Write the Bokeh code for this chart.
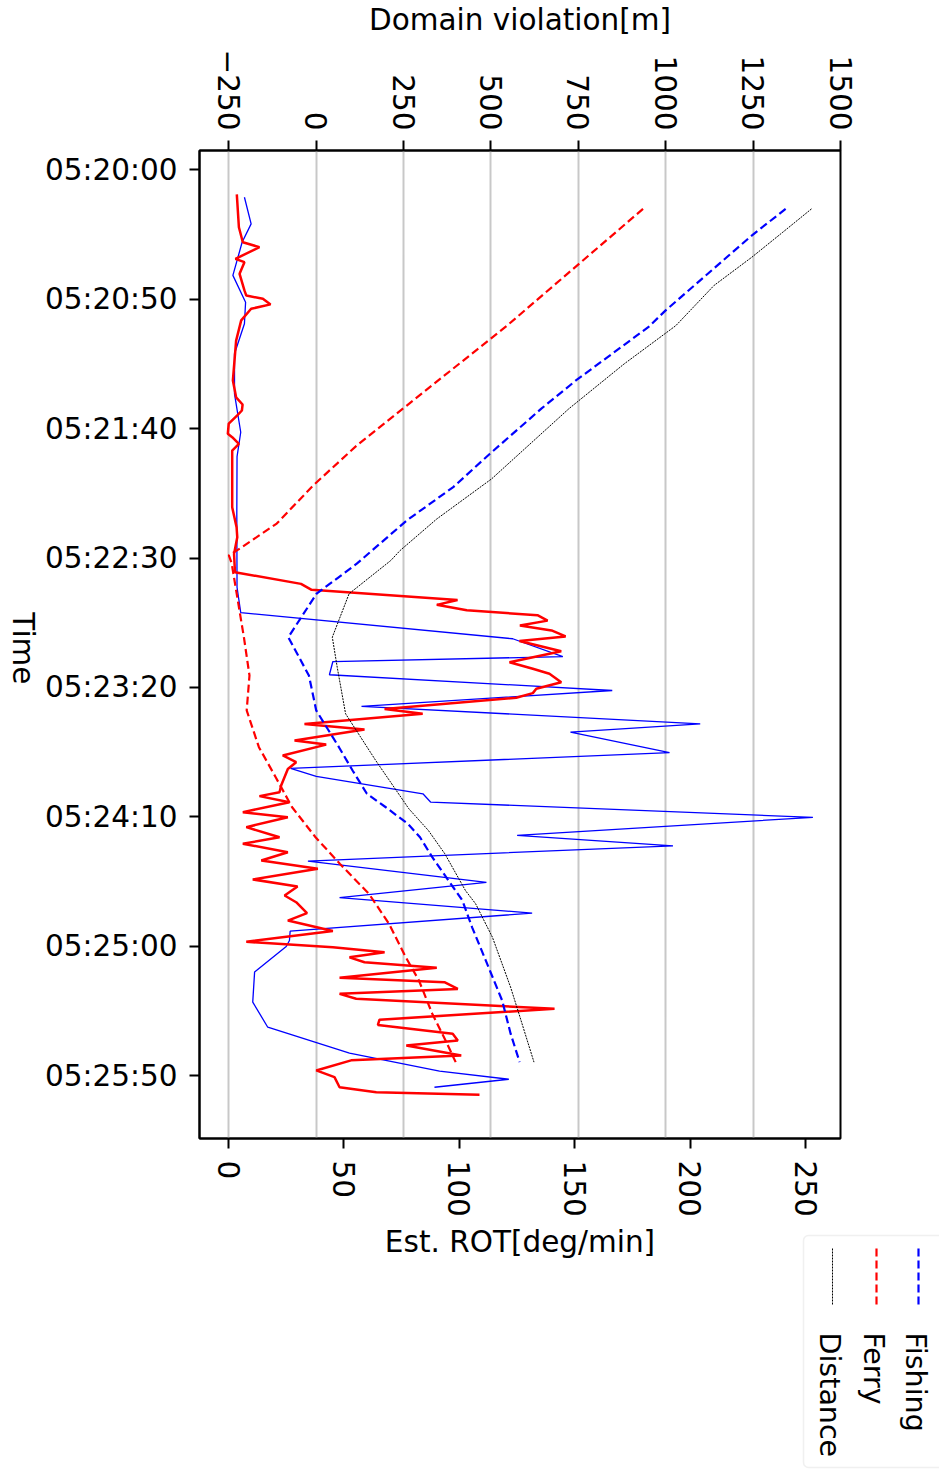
import math
from bokeh.plotting import figure
from bokeh.models import Range1d, LinearAxis, FixedTicker, Grid, BoxAnnotation
from bokeh.layouts import row, column
from bokeh.core.properties import value
from bokeh.embed import file_html
from bokeh.resources import INLINE

# ---------------- data (seconds after 05:20:00) ----------------
ferry_rot_t = [9.5, 22.2, 28.0, 29.9, 34.4, 35.7, 40.2, 46.6, 48.6, 49.8, 52.0, 53.7, 58.2, 66.0,
               81.4, 87.9, 90.7, 93.0, 94.9, 98.1, 102.0, 103.3, 105.9, 108.5, 130.4, 138.1, 142.0,
               148.4, 155.5, 160.0, 162.3, 166.2, 168.1, 170.2, 172.1, 174.2, 176.1, 178.0, 180.3,
               182.1, 186.0, 190.3, 192.8, 194.7, 198.0, 200.5, 202.2, 204.0, 208.3, 210.2, 214.1,
               216.3, 220.5, 222.1, 226.3, 228.9, 231.5, 237.9, 240.5, 242.0, 244.4, 248.2, 250.2,
               254.0, 257.9, 260.4, 263.7, 266.9, 270.1, 274.2, 276.9, 280.4, 283.0, 287.2, 290.1,
               294.1, 298.3, 300.4, 302.3, 304.3, 306.2, 308.3, 312.2, 313.9, 316.5, 318.4, 320.3,
               324.2, 328.4, 330.4, 333.8, 336.4, 338.4, 342.2, 344.1, 348.0, 350.6, 354.5, 356.4,
               357.4]
ferry_rot = [3.6, 4.5, 6.2, 13.4, 3.0, 6.9, 4.8, 6.9, 7.7, 14.9, 18.2, 9.8, 5.5, 3.3, 1.9, 3.3,
             6.1, 5.8, 3.8, 0.1, -0.3, 1.6, 4.5, 1.6, 1.6, 3.5, 3.8, 2.4, 2.8, 31.4, 36.0, 99.2,
             90.2, 103.2, 133.8, 138.2, 126.2, 139.9, 146.0, 126.0, 144.1, 121.7, 131.8, 139.0,
             144.1, 133.3, 131.8, 124.6, 67.6, 84.1, 32.9, 58.9, 28.6, 42.3, 23.5, 29.3, 25.7,
             22.8, 22.1, 13.4, 26.4, 6.2, 25.7, 7.7, 22.1, 6.2, 25.7, 14.2, 38.7, 10.5, 29.9,
             24.3, 29.3, 34.0, 25.7, 45.2, 7.7, 45.2, 67.6, 52.4, 58.9, 90.2, 48.1, 93.5, 99.3,
             48.1, 55.3, 141.2, 65.4, 64.7, 97.1, 99.3, 77.0, 100.8, 53.1, 38.0, 45.9, 48.1,
             64.0, 108.7]

fishing_rot_t = [10.6, 20.9, 28.0, 40.8, 51.2, 59.5, 71.1, 86.6, 101.4, 110.8, 132.9, 161.3,
                 171.1, 181.2, 188.1, 190.0, 195.1, 201.2, 207.3, 214.1, 217.3, 225.2, 231.3,
                 234.4, 241.1, 244.3, 250.2, 257.2, 261.2, 267.1, 275.3, 281.2, 287.2, 294.2,
                 297.8, 300.1, 310.0, 321.6, 331.3, 341.3, 348.3, 351.4, 354.5]
fishing_rot = [6.9, 9.8, 5.9, 1.9, 7.4, 6.9, 2.6, 2.6, 5.3, 3.7, 3.6, 3.7, 5.3, 123.1, 144.8,
               45.2, 43.7, 166.2, 57.6, 204.3, 148.1, 191.0, 26.9, 38.0, 84.2, 87.5, 253.1,
               125.0, 192.5, 34.4, 111.7, 48.1, 131.5, 26.7, 26.4, 25.0, 11.3, 10.5, 17.0,
               52.4, 91.4, 121.4, 89.2]

fishing_dom_t = [15.1, 25.4, 54.4, 60.8, 81.4, 92.3, 109.7, 122.6, 135.5, 152.2, 163.8, 180.6,
                 195.4, 208.9, 223.1, 232.1, 241.1, 246.3, 252.7, 257.9, 265.6, 282.3, 292.7,
                 305.5, 321.0, 333.7, 344.8]
fishing_dom = [1343, 1246, 999, 950, 743, 644, 497, 392, 259, 116, 1, -80, -21, 0, 65, 104,
               145, 199, 262, 297, 332, 418, 446, 485, 532, 556, 582]

ferry_dom_t = [15.1, 60.2, 91.1, 106.5, 122.0, 136.7, 146.3, 149.0, 152.0, 180.6, 195.4, 208.9,
               223.1, 234.7, 246.3, 257.9, 268.2, 279.8, 291.3, 304.2, 313.3, 326.1, 336.4, 344.8]
ferry_dom = [935, 546, 259, 116, -9, -113, -218, -250, -242, -207, -191, -199, -164, -116, -69,
             -2, 68, 151, 208, 256, 294, 332, 370, 399]

distance_t = [15.1, 24.1, 33.8, 44.7, 60.2, 75.0, 92.3, 119.4, 134.9, 147.1, 151.0, 163.8,
              180.6, 192.2, 210.2, 228.2, 246.9, 255.3, 264.3, 278.5, 283.6, 296.5, 315.8,
              326.1, 344.8]
distance = [1417, 1335, 1246, 1138, 1029, 881, 723, 502, 345, 240, 213, 94, 46, 60, 84, 170,
            265, 321, 368, 427, 456, 504, 556, 580, 623]

time_ticks = [0, 50, 100, 150, 200, 250, 300, 350]
time_labels = ["05:20:00", "05:20:50", "05:21:40", "05:22:30",
               "05:23:20", "05:24:10", "05:25:00", "05:25:50"]
rot_ticks = [0, 50, 100, 150, 200, 250]
dom_ticks = [-250, 0, 250, 500, 750, 1000, 1250, 1500]
dom_labels = ["\u2212250", "0", "250", "500", "750", "1000", "1250", "1500"]
legend_names = ["Fishing", "Ferry", "Distance"]
x_title = "Est. ROT[deg/min]"
x2_title = "Domain violation[m]"
y_title = "Time"

# ---------------- page geometry (pixels) ----------------
W, H = 939, 1469
TIME_W = 40            # strip left of the main figure holding the y title
MAIN_H = 1226          # main figure height; strip below holds x title + legend
LEG_X0 = 800           # legend panel left edge
FL, FR, FT, FB = 199, 840, 150, 1138   # plot frame on the page
ROT0, ROT1 = -12.56, 265.05
DOM0, DOM1 = -334.0, 1500.0
T_TOP, T_BOT = -7.46, 374.3

FONT = "DejaVu Sans"
FS = "29.5px"
LFS = "28.5px"
DASH = "8 4"
DOT = "2 1"

main_w = W - TIME_W
p = figure(width=main_w, height=MAIN_H, output_backend="svg", toolbar_location=None,
           x_range=Range1d(ROT0, ROT1), y_range=Range1d(T_BOT, T_TOP),
           min_border_left=FL - TIME_W, min_border_right=W - FR,
           min_border_top=FT, min_border_bottom=MAIN_H - FB,
           x_axis_location=None, y_axis_location=None)
p.extra_x_ranges = {"dom": Range1d(DOM0, DOM1)}
p.xgrid.visible = False
p.ygrid.visible = False
p.outline_line_color = "black"
p.outline_line_width = 2
p.background_fill_color = "white"
p.border_fill_color = "white"

def style_axis(ax):
    ax.axis_line_color = "black"
    ax.axis_line_width = 2
    ax.major_tick_line_width = 2
    ax.major_tick_out = 10
    ax.major_tick_in = 0
    ax.minor_tick_line_color = None
    ax.major_label_text_font = FONT
    ax.major_label_text_font_size = FS
    ax.major_label_text_color = "black"
    ax.axis_label_text_font = FONT
    ax.axis_label_text_font_size = FS
    ax.axis_label_text_font_style = "normal"
    ax.axis_label_text_color = "black"

# left: time
yax = LinearAxis(ticker=FixedTicker(ticks=time_ticks))
yax.major_label_overrides = {t: l for t, l in zip(time_ticks, time_labels)}
style_axis(yax)
yax.major_label_standoff = 12
p.add_layout(yax, "left")

# bottom: ROT (its title is drawn in the strip below)
xax = LinearAxis(ticker=FixedTicker(ticks=rot_ticks))
style_axis(xax)
xax.major_label_orientation = -math.pi / 2
xax.major_label_standoff = 12
p.add_layout(xax, "below")

# top: domain violation
tax = LinearAxis(x_range_name="dom", ticker=FixedTicker(ticks=dom_ticks), axis_label=x2_title)
tax.major_label_overrides = {t: l for t, l in zip(dom_ticks, dom_labels)}
style_axis(tax)
tax.major_label_orientation = -math.pi / 2
tax.major_label_standoff = 10
tax.axis_label_standoff = 9
p.add_layout(tax, "above")

grid = Grid(dimension=0, ticker=FixedTicker(ticks=dom_ticks), x_range_name="dom",
            grid_line_color="#c8c8c8", grid_line_width=2)
p.add_layout(grid)

# lines
p.line(fishing_rot, fishing_rot_t, line_color="blue", line_width=1.3)
p.line(ferry_rot, ferry_rot_t, line_color="red", line_width=2.5)
p.line(fishing_dom, fishing_dom_t, x_range_name="dom", line_color="blue",
       line_width=2.2, line_dash=DASH)
p.line(ferry_dom, ferry_dom_t, x_range_name="dom", line_color="red",
       line_width=2.2, line_dash=DASH)
p.line(distance, distance_t, x_range_name="dom", line_color="black",
       line_width=1.0, line_dash=DOT)

# ---------------- side strips ----------------
def blank_fig(w, h):
    f = figure(width=w, height=h, output_backend="svg", toolbar_location=None,
               x_range=Range1d(0, w), y_range=Range1d(h, 0),
               min_border=0, x_axis_location=None, y_axis_location=None)
    f.xgrid.visible = False
    f.ygrid.visible = False
    f.outline_line_color = None
    f.background_fill_color = "white"
    f.border_fill_color = "white"
    return f

# y title strip (rotated clockwise, reading downward)
tf = blank_fig(TIME_W, MAIN_H)
tf.text(x=[22], y=[573], text=[y_title], angle=-math.pi / 2,
        text_align="left", text_baseline="middle",
        text_font=value(FONT), text_font_size=value(FS), text_color="black")

# x title strip
bot_h = H - MAIN_H
xf = blank_fig(LEG_X0, bot_h)
xf.text(x=[(FL + FR) / 2], y=[1241 - MAIN_H], text=[x_title],
        text_align="center", text_baseline="middle",
        text_font=value(FONT), text_font_size=value(FS), text_color="black")

# legend strip (rotated legend)
lf = blank_fig(W - LEG_X0, bot_h)
lf.add_layout(BoxAnnotation(left=803 - LEG_X0, right=960 - LEG_X0, top=1235 - MAIN_H,
                            bottom=1467 - MAIN_H, fill_color="white", fill_alpha=0.8,
                            line_color="#cccccc", line_width=1.5, border_radius=5,
                            level="underlay"))
leg_styles = [("blue", 2.2, DASH, 918), ("red", 2.2, DASH, 876), ("black", 1.0, DOT, 832)]
for name, (col, lw, dash, lx) in zip(legend_names, leg_styles):
    lf.line(x=[lx - LEG_X0, lx - LEG_X0], y=[1248 - MAIN_H, 1305 - MAIN_H], line_color=col,
            line_width=lw, line_dash=dash)
    lf.text(x=[lx - 3 - LEG_X0], y=[1332 - MAIN_H], text=[name], angle=-math.pi / 2,
            text_align="left", text_baseline="middle",
            text_font=value(FONT), text_font_size=value(LFS), text_color="black")

layout = column(row(tf, p), row(xf, lf))

open("out.html", "w").write(file_html(layout, INLINE))
